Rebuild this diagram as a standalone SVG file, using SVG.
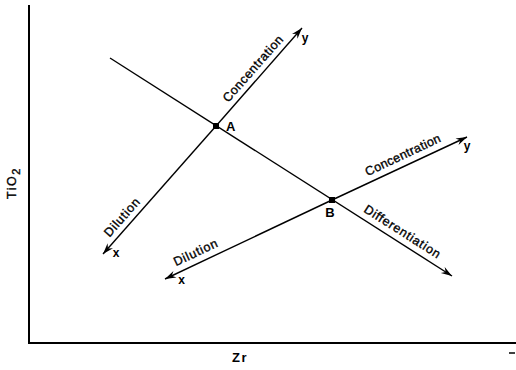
<svg xmlns="http://www.w3.org/2000/svg" width="516" height="370" viewBox="0 0 516 370">
<style>
  .ln { stroke: #000; stroke-width: 1.4; fill: none; }
  .ax { stroke: #000; stroke-width: 2; fill: none; }
  .lbl { font-family: "Liberation Sans", Arial, sans-serif; font-size: 12.5px; fill: #000; stroke: #000; stroke-width: 0.35; }
  .pt { font-family: "Liberation Sans", Arial, sans-serif; font-size: 13px; font-weight: bold; fill: #000; }
  .var { font-family: "Liberation Sans", Arial, sans-serif; font-size: 12px; font-weight: bold; fill: #000; }
</style>
<defs>
  <marker id="arr" markerUnits="userSpaceOnUse" markerWidth="14" markerHeight="10" viewBox="-12 -5 14 10" refX="0" refY="0" orient="auto">
    <path d="M0,0 L-11,-3.6 L-7.5,0 L-11,3.6 Z" fill="#000"/>
  </marker>
</defs>
<rect width="516" height="370" fill="#fff"/>
<g id="axes">
  <line class="ax" x1="29" y1="5" x2="29" y2="344"/>
  <line class="ax" x1="28" y1="343" x2="516" y2="343"/>
  <line x1="509" y1="353" x2="515" y2="353" stroke="#000" stroke-width="1.5"/>
  <text class="pt" x="240" y="362" font-size="15" letter-spacing="1.5" text-anchor="middle">Zr</text>
  <text class="lbl" transform="translate(16,183) rotate(-90)" font-size="15" letter-spacing="1.5" text-anchor="middle">TiO<tspan dy="4" font-size="11">2</tspan></text>
</g>
<g id="connectors">
  <line class="ln" x1="110" y1="58" x2="452" y2="276" marker-end="url(#arr)"/>
  <line class="ln" x1="216" y1="126" x2="302" y2="28" marker-end="url(#arr)"/>
  <line class="ln" x1="216" y1="126" x2="103" y2="254" marker-end="url(#arr)"/>
  <line class="ln" x1="332" y1="200" x2="467" y2="137" marker-end="url(#arr)"/>
  <line class="ln" x1="332" y1="200" x2="165" y2="279" marker-end="url(#arr)"/>
</g>
<g id="pointA">
  <rect x="213" y="123" width="6" height="6" fill="#000"/>
  <text class="pt" x="226" y="131">A</text>
</g>
<g id="pointB">
  <rect x="329" y="197" width="6" height="6" fill="#000"/>
  <text class="pt" x="330" y="217" text-anchor="middle">B</text>
</g>
<g id="labels">
  <text class="lbl" transform="translate(260.5,75.4) rotate(-48.6)" x="0" y="-6" text-anchor="middle" textLength="84" lengthAdjust="spacing">Concentration</text>
  <text class="lbl" transform="translate(129.5,224.2) rotate(-48.6)" x="0" y="-6" text-anchor="middle" textLength="47" lengthAdjust="spacing">Dilution</text>
  <text class="lbl" transform="translate(407.3,164.6) rotate(-25.2)" x="0" y="-6.5" text-anchor="middle" textLength="82" lengthAdjust="spacing">Concentration</text>
  <text class="lbl" transform="translate(200,262.2) rotate(-25.2)" x="0" y="-6.5" text-anchor="middle" textLength="47" lengthAdjust="spacing">Dilution</text>
  <text class="lbl" transform="translate(396.5,240.5) rotate(32.5)" x="0" y="-6.5" text-anchor="middle" textLength="88" lengthAdjust="spacing">Differentiation</text>
  <text class="var" x="305" y="42" text-anchor="middle">y</text>
  <text class="var" x="467" y="150" text-anchor="middle">y</text>
  <text class="var" x="116" y="257" text-anchor="middle">x</text>
  <text class="var" x="181.5" y="284" text-anchor="middle">x</text>
</g>
</svg>
